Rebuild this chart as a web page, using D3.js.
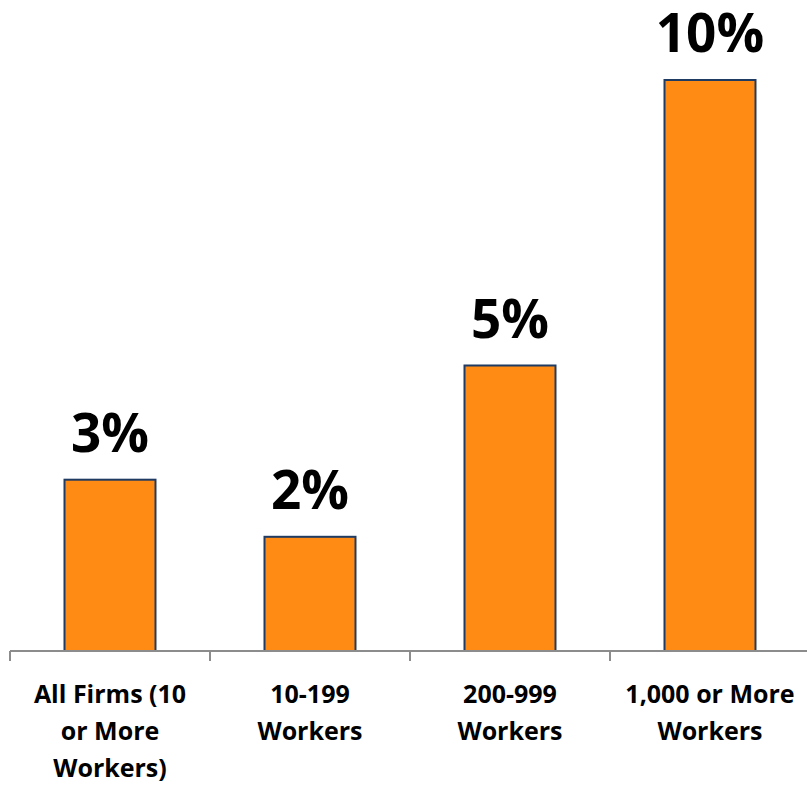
<!DOCTYPE html>
<html>
<head>
<meta charset="utf-8">
<script src="https://cdn.jsdelivr.net/npm/d3@7"></script>
<style>
  body { margin: 0; background: #fff; }
  svg text { font-family: "Open Sans", "Liberation Sans", sans-serif; font-weight: bold; }
</style>
</head>
<body>
<div id="chart"></div>
<script>
var svgWidth = 807;
var svgHeight = 785;

var categories = ["All Firms (10 or More Workers)", "10-199 Workers", "200-999 Workers", "1,000 or More Workers"];
var labelLines = [
    ["All Firms (10", "or More", "Workers)"],
    ["10-199", "Workers"],
    ["200-999", "Workers"],
    ["1,000 or More", "Workers"]
];
var values = [3, 2, 5, 10];
var valueLabels = ["3%", "2%", "5%", "10%"];

var baseY = 651;

var svg = d3.select("#chart")
    .append("svg")
    .attr("width", svgWidth)
    .attr("height", svgHeight);

var xScale = d3.scaleBand()
    .domain(categories)
    .range([10, 810])
    .paddingInner(0.545)
    .paddingOuter(0.2725);

var yScale = d3.scaleLinear()
    .domain([0, 10])
    .range([baseY, 80]);

// bars
svg.selectAll("rect.bar")
    .data(values)
    .enter()
    .append("rect")
    .classed("bar", true)
    .attr("x", (d, i) => xScale(categories[i]))
    .attr("y", d => yScale(d))
    .attr("width", xScale.bandwidth())
    .attr("height", d => baseY - yScale(d))
    .attr("fill", "#FF8A14")
    .attr("stroke", "#1F3A63")
    .attr("stroke-width", 2);

// x axis line with ticks at category boundaries
var axis = svg.append("g");
axis.append("line")
    .attr("x1", 10).attr("x2", svgWidth)
    .attr("y1", baseY).attr("y2", baseY)
    .attr("stroke", "#8C8C8C")
    .attr("stroke-width", 2);

var tickX = categories.map(c => xScale(c) - (xScale.step() - xScale.bandwidth()) / 2);
axis.selectAll("line.tick")
    .data(tickX)
    .enter()
    .append("line")
    .classed("tick", true)
    .attr("x1", d => d).attr("x2", d => d)
    .attr("y1", baseY).attr("y2", baseY + 10)
    .attr("stroke", "#8C8C8C")
    .attr("stroke-width", 2);

// value labels
svg.selectAll("text.value")
    .data(values)
    .enter()
    .append("text")
    .classed("value", true)
    .attr("x", (d, i) => xScale(categories[i]) + xScale.bandwidth() / 2)
    .attr("y", d => yScale(d) - 28)
    .attr("text-anchor", "middle")
    .attr("font-size", "53px")
    .attr("fill", "#000")
    .text((d, i) => valueLabels[i]);

// category labels
labelLines.forEach(function(lines, i) {
    var cx = xScale(categories[i]) + xScale.bandwidth() / 2;
    var t = svg.append("text")
        .attr("text-anchor", "middle")
        .attr("font-size", "25px")
        .attr("fill", "#000");
    lines.forEach(function(line, j) {
        t.append("tspan")
            .attr("x", cx)
            .attr("y", 703 + j * 37)
            .text(line);
    });
});
</script>
</body>
</html>
